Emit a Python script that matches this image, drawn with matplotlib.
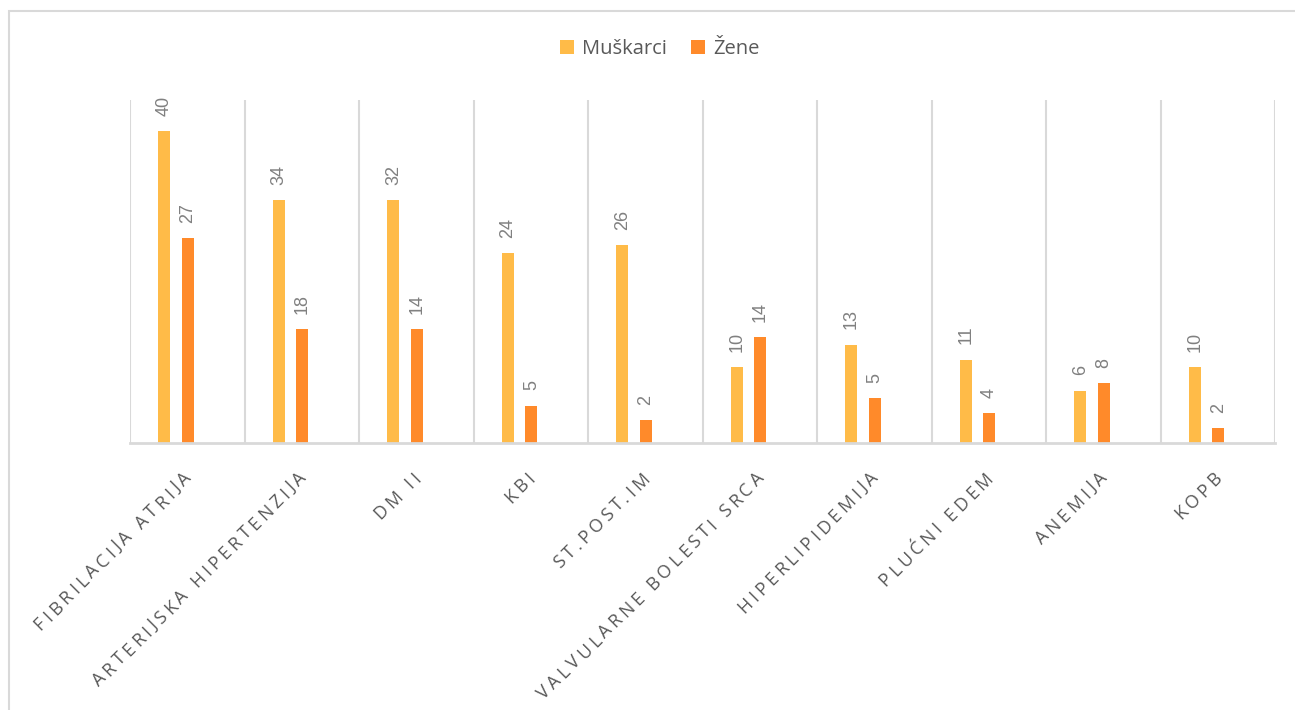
import matplotlib
matplotlib.use("Agg")
import matplotlib.pyplot as plt
from matplotlib import font_manager, transforms
from matplotlib.font_manager import FontProperties
from matplotlib.ft2font import FT2Font
from matplotlib.patches import Patch, Rectangle
import numpy as np

# ---------------- data ----------------
categories = ["FIBRILACIJA ATRIJA", "ARTERIJSKA HIPERTENZIJA", "DM II", "KBI",
              "ST.POST.IM", "VALVULARNE BOLESTI SRCA", "HIPERLIPIDEMIJA",
              "PLUĆNI EDEM", "ANEMIJA", "KOPB"]
series_names = ["Muškarci", "Žene"]
# bar heights as drawn in the reference
muskarci_heights = [40, 31.2, 31.2, 24.4, 25.4, 9.7, 12.6, 10.7, 6.7, 9.7]
zene_heights = [26.3, 14.6, 14.6, 4.8, 2.9, 13.6, 5.8, 3.8, 7.7, 1.9]
# data labels as printed in the reference
muskarci_labels = [40, 34, 32, 24, 26, 10, 13, 11, 6, 10]
zene_labels = [27, 18, 14, 5, 2, 14, 5, 4, 8, 2]

# ---------------- style ----------------
W, H, DPI = 1295, 710, 100
col_m = "#FFBB48"
col_z = "#FF8A2A"
grid_col = "#D9D9D9"
tick_col = "#595959"
lab_col = "#808080"
tick_font = "Open Sans"
tick_fs = 13
letter_sp = 2.55  # points of extra letter spacing

fig = plt.figure(figsize=(W / DPI, H / DPI), dpi=DPI)
ax = fig.add_axes([130 / W, 1 - 443 / H, (1275 - 130) / W, (443 - 100) / H])

x = np.arange(len(categories))
bw = 0.107
ax.bar(x - 0.2, muskarci_heights, width=bw, color=col_m, zorder=3)
ax.bar(x + 0.005, zene_heights, width=bw, color=col_z, zorder=3)

ax.set_xlim(-0.5, len(categories) - 0.5)
ax.set_ylim(0, 44)
for b in np.arange(-0.5, len(categories), 1.0):
    ax.axvline(b, color=grid_col, lw=1.5, zorder=1)
for s in ["top", "right", "left"]:
    ax.spines[s].set_visible(False)
ax.spines["bottom"].set_color(grid_col)
ax.spines["bottom"].set_linewidth(2)
ax.spines["bottom"].set_zorder(4)
ax.set_yticks([])
ax.set_xticks([])

# data labels
for xi, h, l in zip(x - 0.2, muskarci_heights, muskarci_labels):
    ax.annotate(str(l), (xi, h), xytext=(0, 11), textcoords="offset points",
                rotation=90, ha="center", va="bottom", color=lab_col,
                fontsize=13, family="Liberation Sans")
for xi, h, l in zip(x + 0.005, zene_heights, zene_labels):
    ax.annotate(str(l), (xi, h), xytext=(0, 11), textcoords="offset points",
                rotation=90, ha="center", va="bottom", color=lab_col,
                fontsize=13, family="Liberation Sans")

# letter-spaced rotated category labels
fpath = font_manager.findfont(FontProperties(family=tick_font))
ft = FT2Font(fpath)
ft.set_size(tick_fs, 72)


def adv(c):
    g = ft.load_char(ord(c))
    return g.linearHoriAdvance / 65536.0


ang = np.deg2rad(45)
u = np.array([np.cos(ang), np.sin(ang)])
cap = 0.714 * tick_fs
nvec = np.array([-np.sin(ang), np.cos(ang)])
top_gap_pt = 27 * 72 / DPI
shift_x_pt = -4 * 72 / DPI
for xi, lab in zip(x, categories):
    advs = [adv(c) for c in lab]
    pos = np.concatenate([[0], np.cumsum(np.array(advs) + letter_sp)])[:-1]
    end = pos[-1] + advs[-1]
    E = np.array([shift_x_pt, -top_gap_pt]) - cap * nvec
    for c, p in zip(lab, pos):
        o = E + (p - end) * u
        tr = transforms.offset_copy(ax.get_xaxis_transform(), fig=fig,
                                    x=o[0], y=o[1], units="points")
        ax.text(xi, 0, c, transform=tr, rotation=45, rotation_mode="anchor",
                ha="left", va="baseline", fontsize=tick_fs, family=tick_font,
                color=tick_col, clip_on=False)

# legend
handles = [Patch(facecolor=col_m, edgecolor="none"), Patch(facecolor=col_z, edgecolor="none")]
fig.legend(handles, series_names, loc="center", bbox_to_anchor=(660 / W, 1 - 49 / H),
           ncol=2, frameon=False, handlelength=0.7, handleheight=0.7,
           handletextpad=0.4, columnspacing=1.2,
           prop=FontProperties(family="Open Sans", size=14.5), labelcolor=tick_col)

# chart border
fig.patches.append(Rectangle((9 / W, -0.1), 1.2, 1 - 11 / H + 0.1, transform=fig.transFigure,
                             fill=False, edgecolor=grid_col, lw=1.5, zorder=0))

fig.savefig("out.png", dpi=DPI)
